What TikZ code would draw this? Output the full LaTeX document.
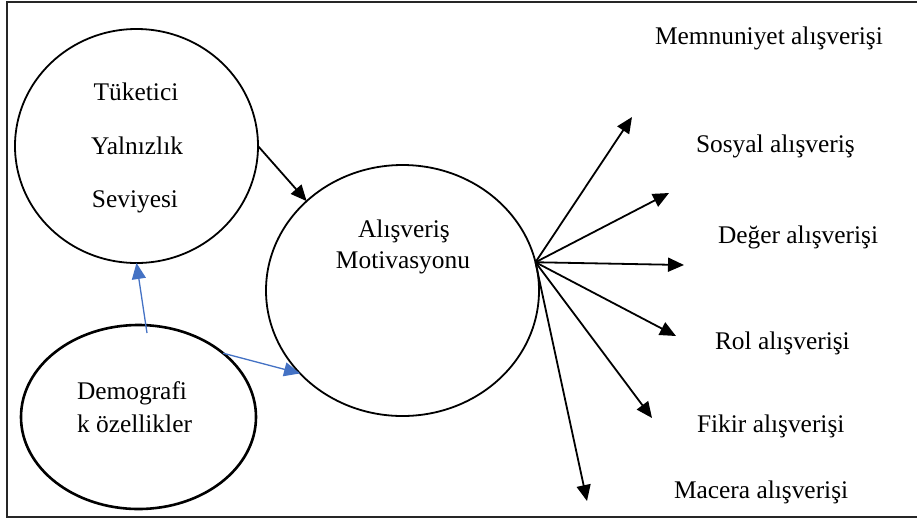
\documentclass[tikz,border=0pt]{standalone}
\usepackage{fontspec}
\setmainfont{Liberation Serif}
\usetikzlibrary{shapes.geometric,arrows.meta}
\definecolor{arrblue}{HTML}{4472C4}
\begin{document}
\begin{tikzpicture}[x=1pt,y=-1pt,
  every node/.style={font=\fontsize{25.4}{30}\selectfont, inner sep=0pt, outer sep=0pt},
  oval/.style={draw, ellipse, line width=1.8pt},
  lbl/.style={anchor=base west},
  ctr/.style={anchor=base},
  blackarrow/.style={line width=1.8pt, -{Triangle[length=16pt,width=14pt]}},
  bluearrow/.style={draw=arrblue, line width=1.3pt, -{Triangle[length=16pt,width=14pt]}, arrblue}
]
\useasboundingbox (0,0) rectangle (917,523);
\draw[line width=2.2pt, black!85] (7,1.6) rectangle (930,517);

% ellipses
\node[oval, minimum width=243pt, minimum height=234pt] (t) at (136.5,146) {};
\node[oval, minimum width=273pt, minimum height=251pt] (m) at (402.5,290.5) {};
\node[oval, line width=2.6pt, minimum width=235pt, minimum height=184pt] (d) at (138.5,417) {};

% ellipse texts
\node[ctr] (t1) at (136,100) {Tüketici};
\node[ctr] (t2) at (137,154) {Yalnızlık};
\node[ctr] (t3) at (135,207) {Seviyesi};
\node[ctr] (m1) at (404,237) {Alışveriş};
\node[ctr] (m2) at (403,268) {Motivasyonu};
\node[lbl] (d1) at (77,399) {Demografi};
\node[lbl] (d2) at (77,432) {k özellikler};

% right labels
\node[lbl] (l1) at (655,44) {Memnuniyet alışverişi};
\node[lbl] (l2) at (696,152) {Sosyal alışveriş};
\node[lbl] (l3) at (718,243) {Değer alışverişi};
\node[lbl] (l4) at (715,349) {Rol alışverişi};
\node[lbl] (l5) at (697,432) {Fikir alışverişi};
\node[lbl] (l6) at (674,498) {Macera alışverişi};

% arrow end points
\coordinate (h) at (m.12);
\coordinate (e1) at (632,117);
\coordinate (e2) at (669,193);
\coordinate (e3) at (684,265);
\coordinate (e4) at (676,336);
\coordinate (e5) at (652,418);
\coordinate (e6) at (587,501);

\draw[blackarrow] (t.east) -- (m.137);
\draw[bluearrow] ([shift={(8.5,8)}]d.north) -- (t.south);
\draw[bluearrow] (d.37.5) -- (m.219);

\foreach \e in {e1,e2,e3,e4,e5,e6}
  \draw[blackarrow] (h) -- (\e);
\end{tikzpicture}
\end{document}
